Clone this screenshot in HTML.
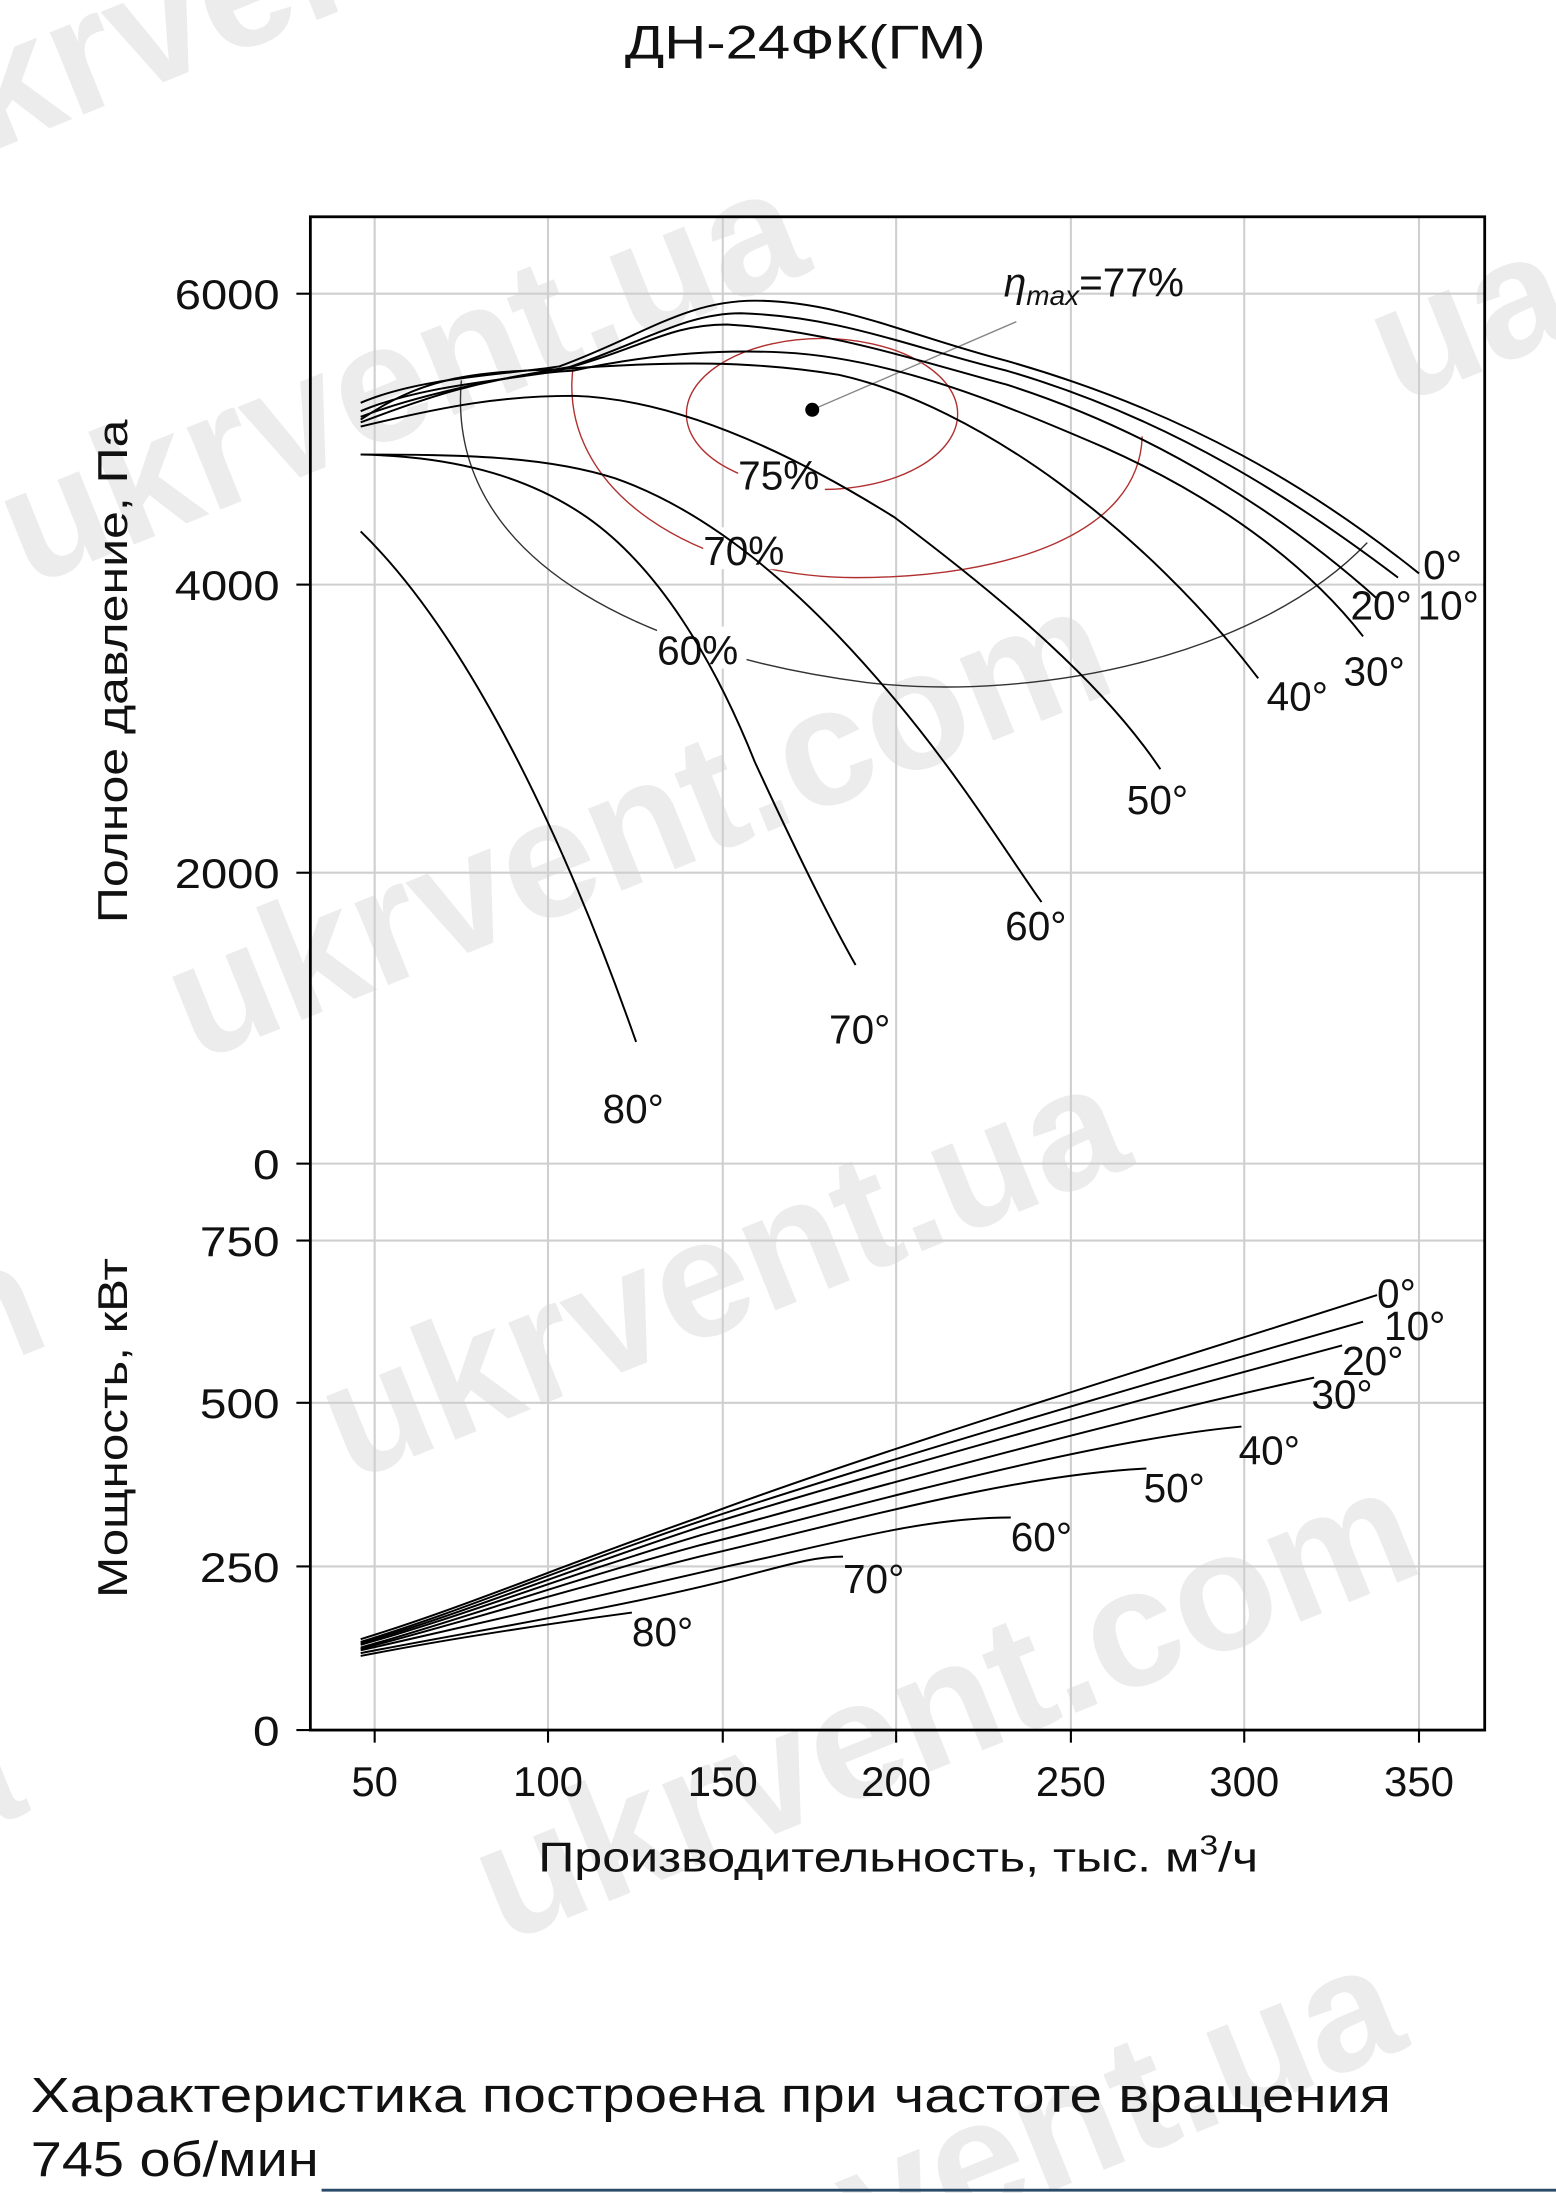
<!DOCTYPE html>
<html><head><meta charset="utf-8"><style>
html,body{margin:0;padding:0;background:#fff;}
svg{display:block;}
text{font-family:"Liberation Sans","DejaVu Sans",sans-serif;}
</style></head><body>
<svg width="1556" height="2193" viewBox="0 0 1113 1568" preserveAspectRatio="none" xmlns="http://www.w3.org/2000/svg">
<rect width="1113" height="1568" fill="#fff"/>
<g fill="#ececec" font-weight="bold" font-size="120" font-family="Liberation Sans,sans-serif">
<text transform="translate(-10,110) rotate(-22)">krvent</text>
<text transform="translate(20,420) rotate(-22)">ukrvent.ua</text>
<text transform="translate(140,760) rotate(-22)">ukrvent.com</text>
<text transform="translate(250,1060) rotate(-22)">ukrvent.ua</text>
<text transform="translate(360,1390) rotate(-22)">ukrvent.com</text>
<text transform="translate(1000,290) rotate(-22)">ua</text>
<text transform="translate(-60,1000) rotate(-22)">m</text>
<text transform="translate(-40,1320) rotate(-22)">a</text>
<text transform="translate(620,1620) rotate(-22)">vent.ua</text>
</g>
<text x="447" y="42" font-size="34" textLength="258" lengthAdjust="spacingAndGlyphs" fill="#111">ДН-24ФК(ГМ)</text>
<g stroke="#cfcfcf" stroke-width="1.5">
<line x1="268" y1="155" x2="268" y2="1237"/><line x1="392" y1="155" x2="392" y2="1237"/>
<line x1="517" y1="155" x2="517" y2="1237"/><line x1="641" y1="155" x2="641" y2="1237"/>
<line x1="766" y1="155" x2="766" y2="1237"/><line x1="890" y1="155" x2="890" y2="1237"/>
<line x1="1015" y1="155" x2="1015" y2="1237"/>
<line x1="222" y1="210" x2="1062" y2="210"/><line x1="222" y1="418" x2="1062" y2="418"/>
<line x1="222" y1="624" x2="1062" y2="624"/><line x1="222" y1="832" x2="1062" y2="832"/>
<line x1="222" y1="887" x2="1062" y2="887"/><line x1="222" y1="1003" x2="1062" y2="1003"/>
<line x1="222" y1="1120" x2="1062" y2="1120"/>
</g>
<rect x="222" y="155" width="840" height="1082" fill="none" stroke="#000" stroke-width="2"/>
<g stroke="#000" stroke-width="1.5">
<line x1="212" y1="210" x2="222" y2="210"/><line x1="212" y1="418" x2="222" y2="418"/>
<line x1="212" y1="624" x2="222" y2="624"/><line x1="212" y1="832" x2="222" y2="832"/>
<line x1="212" y1="887" x2="222" y2="887"/><line x1="212" y1="1003" x2="222" y2="1003"/>
<line x1="212" y1="1120" x2="222" y2="1120"/><line x1="212" y1="1237" x2="222" y2="1237"/>
<line x1="268" y1="1237" x2="268" y2="1246"/><line x1="392" y1="1237" x2="392" y2="1246"/>
<line x1="517" y1="1237" x2="517" y2="1246"/><line x1="641" y1="1237" x2="641" y2="1246"/>
<line x1="766" y1="1237" x2="766" y2="1246"/><line x1="890" y1="1237" x2="890" y2="1246"/>
<line x1="1015" y1="1237" x2="1015" y2="1246"/>
</g>
<g font-size="30" fill="#111">
<text x="125" y="221" textLength="75" lengthAdjust="spacingAndGlyphs">6000</text>
<text x="125" y="429" textLength="75" lengthAdjust="spacingAndGlyphs">4000</text>
<text x="125" y="635" textLength="75" lengthAdjust="spacingAndGlyphs">2000</text>
<text x="181" y="843" textLength="19" lengthAdjust="spacingAndGlyphs">0</text>
<text x="143" y="898" textLength="57" lengthAdjust="spacingAndGlyphs">750</text>
<text x="143" y="1014" textLength="57" lengthAdjust="spacingAndGlyphs">500</text>
<text x="143" y="1131" textLength="57" lengthAdjust="spacingAndGlyphs">250</text>
<text x="181" y="1248" textLength="19" lengthAdjust="spacingAndGlyphs">0</text>
</g>
<g font-size="30" fill="#111" text-anchor="middle">
<text x="268" y="1284">50</text><text x="392" y="1284">100</text><text x="517" y="1284">150</text>
<text x="641" y="1284">200</text><text x="766" y="1284">250</text><text x="890" y="1284">300</text>
<text x="1015" y="1284">350</text>
</g>
<text x="385" y="1338" font-size="30" fill="#111" textLength="515" lengthAdjust="spacingAndGlyphs">Производительность, тыс. м<tspan font-size="20" dy="-12">3</tspan><tspan dy="12">/ч</tspan></text>
<text transform="translate(91,480) rotate(-90)" font-size="30" text-anchor="middle" textLength="360" lengthAdjust="spacingAndGlyphs" fill="#111">Полное давление, Па</text>
<text transform="translate(91,1021) rotate(-90)" font-size="30" text-anchor="middle" textLength="243" lengthAdjust="spacingAndGlyphs" fill="#111">Мощность, кВт</text>
<ellipse cx="588" cy="296" rx="97" ry="54" fill="none" stroke="#b03030" stroke-width="1"/>
<path d="M410,262 C398,352 500,413 612,413 C720,413 815,382 817,312" fill="none" stroke="#b03030" stroke-width="1"/>
<path d="M330,272 C318,410 480,470 620,488 C740,502 900,470 978,388" fill="none" stroke="#333" stroke-width="1"/>
<line x1="581" y1="293" x2="727" y2="230" stroke="#888" stroke-width="1"/>
<circle cx="581" cy="293" r="5" fill="#000"/>
<rect x="528" y="322" width="62" height="30" fill="#fff"/>
<rect x="503" y="377" width="64" height="30" fill="#fff"/>
<rect x="470" y="448" width="64" height="30" fill="#fff"/>
<g font-size="29" fill="#111">
<text x="528" y="350">75%</text><text x="503" y="404">70%</text><text x="470" y="475">60%</text>
<text x="718" y="212"><tspan font-style="italic">η</tspan><tspan font-style="italic" font-size="20" dy="6">max</tspan><tspan dy="-6">=77%</tspan></text>
</g>
<g fill="none" stroke="#000" stroke-width="1.4">
<path d="M258,288 C300,270 360,268 400,262 C460,240 490,215 540,215 C600,215 650,240 720,258 C850,295 940,350 1015,410"/>
<path d="M258,294 C300,276 360,272 400,265 C460,245 490,224 530,224 C600,226 650,248 720,265 C840,300 930,360 1000,413"/>
<path d="M258,298 C300,282 360,270 410,262 C460,248 480,232 520,232 C590,236 650,256 720,275 C830,310 920,370 985,428"/>
<path d="M258,302 C300,286 350,268 410,265 C470,252 520,250 560,252 C640,256 720,290 790,320 C880,360 940,410 975,455"/>
<path d="M258,300 C300,272 330,266 400,264 C480,258 540,258 600,268 C700,290 820,380 900,485"/>
<path d="M258,305 C320,290 360,283 410,283 C480,285 560,320 640,370 C720,430 790,490 830,550"/>
<path d="M258,325 C330,325 390,326 440,342 C520,370 590,440 640,500 C690,560 720,610 745,645"/>
<path d="M258,325 C310,326 370,335 420,370 C470,405 510,470 540,545 C570,610 595,660 612,690"/>
<path d="M258,380 C320,440 390,560 455,745"/>
</g>
<g fill="none" stroke="#000" stroke-width="1.4">
<path d="M258,1172 C330,1150 400,1120 500,1085 C620,1040 800,985 985,926"/>
<path d="M258,1174 C330,1152 400,1122 500,1088 C620,1048 800,995 975,945"/>
<path d="M258,1175 C330,1154 400,1125 500,1092 C620,1055 800,1005 960,962"/>
<path d="M258,1176 C330,1156 400,1128 500,1098 C620,1065 800,1015 940,985"/>
<path d="M258,1178 C330,1158 400,1132 500,1105 C620,1075 780,1030 888,1020"/>
<path d="M258,1179 C330,1160 400,1138 500,1113 C600,1090 720,1055 820,1050"/>
<path d="M258,1180 C330,1163 420,1143 520,1120 C600,1103 660,1085 723,1085"/>
<path d="M258,1182 C340,1166 440,1150 520,1130 C560,1120 580,1113 603,1113"/>
<path d="M258,1184 C330,1170 400,1160 452,1153"/>
</g>
<g font-size="29" fill="#111">
<text x="1018" y="414">0°</text><text x="1014" y="443">10°</text><text x="966" y="443">20°</text>
<text x="961" y="490">30°</text><text x="906" y="508">40°</text><text x="806" y="582">50°</text>
<text x="719" y="672">60°</text><text x="593" y="746">70°</text><text x="431" y="803">80°</text>
<text x="985" y="935">0°</text><text x="990" y="958">10°</text><text x="960" y="983">20°</text>
<text x="938" y="1007">30°</text><text x="886" y="1047">40°</text><text x="818" y="1074">50°</text>
<text x="723" y="1109">60°</text><text x="603" y="1139">70°</text><text x="452" y="1177">80°</text>
</g>
<g font-size="35" fill="#111">
<text x="22" y="1510" textLength="973" lengthAdjust="spacingAndGlyphs">Характеристика построена при частоте вращения</text>
<text x="22" y="1556" textLength="206" lengthAdjust="spacingAndGlyphs">745 об/мин</text>
</g>
<line x1="230" y1="1566" x2="1113" y2="1566" stroke="#2a4a6a" stroke-width="2"/>
</svg>
</body></html>
